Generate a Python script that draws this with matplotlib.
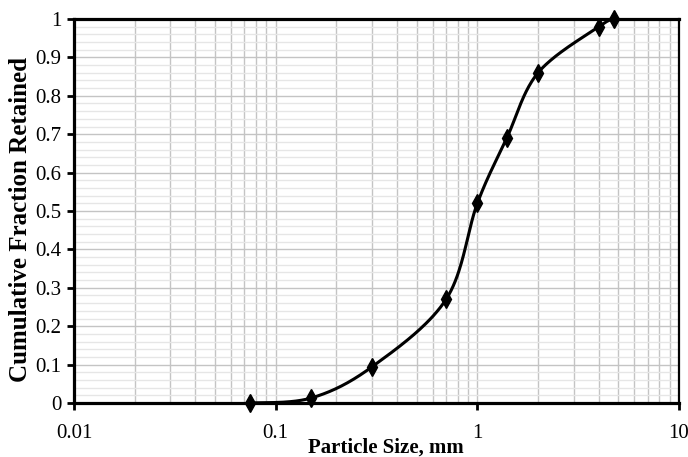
import numpy as np
import matplotlib
matplotlib.use("Agg")
import matplotlib.pyplot as plt
from matplotlib.ticker import FixedLocator, NullFormatter, NullLocator

# sieve results
sizes = [0.075, 0.15, 0.3, 0.7, 1.0, 1.4, 2.0, 4.0, 4.75]
retained = [0.0, 0.013, 0.094, 0.27, 0.52, 0.69, 0.86, 0.98, 1.0]
x_ticks = [0.01, 0.1, 1, 10]
x_tick_labels = ["0.01", "0.1", "1", "10"]

plt.rcParams['font.family'] = ['Liberation Serif', 'DejaVu Serif']

fig = plt.figure(figsize=(6.88, 4.57), dpi=100)
ax = fig.add_axes([74/688, 54/457, 605/688, 384/457])
ax.set_xscale('log')
ax.set_xlim(0.01, 10)
ax.set_ylim(0, 1)


def smooth(xs, ys, ax, n=40):
    # cardinal bezier through the points, done in pixel space like a spreadsheet "smoothed line"
    bb = ax.get_position()
    W = bb.width * 688
    H = bb.height * 457
    u = (np.log10(xs) + 2) / 3 * W
    v = np.array(ys) * H
    pts = np.column_stack([u, v])
    out = []
    for i in range(len(pts) - 1):
        p0 = pts[max(i - 1, 0)]
        p1 = pts[i]
        p2 = pts[i + 1]
        p3 = pts[min(i + 2, len(pts) - 1)]
        c1 = p1 + (p2 - p0) / 6
        c2 = p2 - (p3 - p1) / 6
        t = np.linspace(0, 1, n)[:, None]
        seg = ((1 - t) ** 3) * p1 + 3 * ((1 - t) ** 2) * t * c1 + 3 * (1 - t) * t ** 2 * c2 + t ** 3 * p2
        out.append(seg if i == 0 else seg[1:])
    out = np.vstack(out)
    return 10 ** (out[:, 0] / W * 3 - 2), out[:, 1] / H


cx, cy = smooth(sizes, retained, ax)
ax.plot(cx, cy, color='black', lw=2.2, zorder=3, clip_on=False)
ax.plot(sizes, retained, ls='none', marker='d', ms=9, color='black', zorder=4, clip_on=False)

# grid
ax.xaxis.set_major_locator(FixedLocator(x_ticks))
ax.set_xticklabels(x_tick_labels)
minor_x = [m * 10.0 ** e for e in (-2, -1, 0) for m in range(2, 10)]
for xv in minor_x + [0.1, 1]:
    ax.axvline(xv, color='#c4c4c4', lw=1.0, zorder=1)
ax.set_yticks(np.arange(0, 1.01, 0.1))
ax.set_yticklabels(["0", "0.1", "0.2", "0.3", "0.4", "0.5", "0.6", "0.7", "0.8", "0.9", "1"])
for yv in np.arange(0.02, 1.0, 0.02):
    if abs(yv * 10 - round(yv * 10)) < 1e-6:
        ax.axhline(yv, color='#c4c4c4', lw=1.0, zorder=1)
    else:
        ax.axhline(yv, color='#e6e6e6', lw=1.0, zorder=1)
ax.xaxis.set_minor_locator(NullLocator())
ax.xaxis.set_minor_formatter(NullFormatter())

for side in ['top', 'left', 'bottom']:
    ax.spines[side].set_linewidth(2.3)
ax.spines['right'].set_linewidth(1.6)

ax.tick_params(axis='both', which='major', direction='out', length=5, width=2,
               labelsize=15, colors='black')
ax.tick_params(axis='x', pad=10)
ax.tick_params(axis='y', pad=4)

ax.set_xlabel("Particle Size, mm", fontsize=15, fontweight='bold')
ax.xaxis.set_label_coords(0.516, -0.09)
ax.set_ylabel("Cumulative Fraction Retained", fontsize=18, fontweight='bold')
ax.yaxis.set_label_coords(-0.07, 0.477)

fig.savefig("out.png", dpi=100)
